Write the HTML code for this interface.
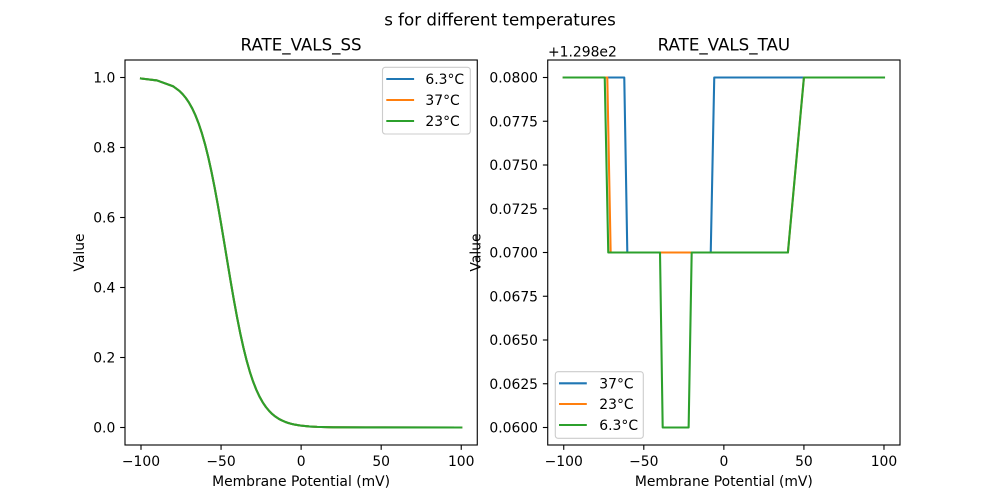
<!DOCTYPE html>
<html>
<head>
<meta charset="utf-8">
<style>
html,body{margin:0;padding:0;background:#fff;}
svg{display:block;}
text{font-family:"DejaVu Sans","Liberation Sans",sans-serif;fill:#000;}
.t{font-size:13.9px;}
.ti{font-size:16.67px;}
</style>
</head>
<body>
<svg width="1000" height="500" viewBox="0 0 1000 500" xmlns="http://www.w3.org/2000/svg">
<rect width="1000" height="500" fill="#fff"/>
<text class="ti" x="500" y="25.5" text-anchor="middle">s for different temperatures</text>

<!-- LEFT AXES -->
<text class="ti" x="301.1" y="50.3" text-anchor="middle">RATE_VALS_SS</text>
<g fill="none" stroke-width="2.08" stroke-linejoin="round" stroke-linecap="square">
<polyline stroke="#1f77b4" points="141.0,78.47 157.01,80.42 173.02,86.22 179.43,90.93 182.63,94.10 185.83,97.99 189.04,102.72 192.24,108.44 195.44,115.31 198.64,123.47 201.84,133.11 205.05,144.31 208.25,157.14 211.45,171.63 214.65,187.68 217.86,205.11 221.06,223.60 224.26,242.79 227.46,262.21 230.67,281.40 233.87,299.90 237.07,317.33 240.27,333.37 243.48,347.86 246.68,360.70 249.88,371.90 253.08,381.52 256.29,389.69 259.49,396.56 262.69,402.28 265.89,407.01 269.10,410.90 272.30,414.08 275.50,416.67 278.70,418.78 281.91,420.48 285.11,421.85 288.31,422.96 291.51,423.86 294.72,424.58 297.92,425.16 301.12,425.62 309.13,426.42 317.13,426.88 333.14,427.30 365.17,427.47 461.24,427.5"/>
<polyline stroke="#ff7f0e" points="141.0,78.47 157.01,80.42 173.02,86.22 179.43,90.93 182.63,94.10 185.83,97.99 189.04,102.72 192.24,108.44 195.44,115.31 198.64,123.47 201.84,133.11 205.05,144.31 208.25,157.14 211.45,171.63 214.65,187.68 217.86,205.11 221.06,223.60 224.26,242.79 227.46,262.21 230.67,281.40 233.87,299.90 237.07,317.33 240.27,333.37 243.48,347.86 246.68,360.70 249.88,371.90 253.08,381.52 256.29,389.69 259.49,396.56 262.69,402.28 265.89,407.01 269.10,410.90 272.30,414.08 275.50,416.67 278.70,418.78 281.91,420.48 285.11,421.85 288.31,422.96 291.51,423.86 294.72,424.58 297.92,425.16 301.12,425.62 309.13,426.42 317.13,426.88 333.14,427.30 365.17,427.47 461.24,427.5"/>
<polyline stroke="#2ca02c" points="141.0,78.47 157.01,80.42 173.02,86.22 179.43,90.93 182.63,94.10 185.83,97.99 189.04,102.72 192.24,108.44 195.44,115.31 198.64,123.47 201.84,133.11 205.05,144.31 208.25,157.14 211.45,171.63 214.65,187.68 217.86,205.11 221.06,223.60 224.26,242.79 227.46,262.21 230.67,281.40 233.87,299.90 237.07,317.33 240.27,333.37 243.48,347.86 246.68,360.70 249.88,371.90 253.08,381.52 256.29,389.69 259.49,396.56 262.69,402.28 265.89,407.01 269.10,410.90 272.30,414.08 275.50,416.67 278.70,418.78 281.91,420.48 285.11,421.85 288.31,422.96 291.51,423.86 294.72,424.58 297.92,425.16 301.12,425.62 309.13,426.42 317.13,426.88 333.14,427.30 365.17,427.47 461.24,427.5"/>
</g>
<rect x="125" y="60" width="352.27" height="385" fill="none" stroke="#000" stroke-width="1.11"/>
<g stroke="#000" stroke-width="1.11">
<line x1="141.0" y1="445" x2="141.0" y2="449.86"/>
<line x1="221.06" y1="445" x2="221.06" y2="449.86"/>
<line x1="301.12" y1="445" x2="301.12" y2="449.86"/>
<line x1="381.18" y1="445" x2="381.18" y2="449.86"/>
<line x1="461.24" y1="445" x2="461.24" y2="449.86"/>
<line x1="125" y1="427.5" x2="120.14" y2="427.5"/>
<line x1="125" y1="357.5" x2="120.14" y2="357.5"/>
<line x1="125" y1="287.5" x2="120.14" y2="287.5"/>
<line x1="125" y1="217.5" x2="120.14" y2="217.5"/>
<line x1="125" y1="147.5" x2="120.14" y2="147.5"/>
<line x1="125" y1="77.5" x2="120.14" y2="77.5"/>
</g>
<g text-anchor="middle">
<text class="t" x="141.0" y="466">−100</text>
<text class="t" x="221.06" y="466">−50</text>
<text class="t" x="301.12" y="466">0</text>
<text class="t" x="381.18" y="466">50</text>
<text class="t" x="461.24" y="466">100</text>
</g>
<g text-anchor="end">
<text class="t" x="115.3" y="432.5">0.0</text>
<text class="t" x="115.3" y="362.5">0.2</text>
<text class="t" x="115.3" y="292.5">0.4</text>
<text class="t" x="115.3" y="222.5">0.6</text>
<text class="t" x="115.3" y="152.5">0.8</text>
<text class="t" x="115.3" y="82.5">1.0</text>
</g>
<text class="t" x="301.1" y="485.8" text-anchor="middle">Membrane Potential (mV)</text>
<text class="t" transform="translate(84,252.5) rotate(-90)" text-anchor="middle">Value</text>
<!-- left legend -->
<rect x="382.5" y="67.3" width="87.8" height="66.7" rx="2.8" fill="#fff" fill-opacity="0.8" stroke="#cccccc" stroke-width="1.11"/>
<line x1="386.3" y1="79" x2="414.1" y2="79" stroke="#1f77b4" stroke-width="2.08"/>
<line x1="386.3" y1="100" x2="414.1" y2="100" stroke="#ff7f0e" stroke-width="2.08"/>
<line x1="386.3" y1="121" x2="414.1" y2="121" stroke="#2ca02c" stroke-width="2.08"/>
<text class="t" x="425.4" y="84">6.3°C</text>
<text class="t" x="425.4" y="105">37°C</text>
<text class="t" x="425.4" y="126">23°C</text>

<!-- RIGHT AXES -->
<text class="ti" x="723.86" y="50.3" text-anchor="middle">RATE_VALS_TAU</text>
<text class="t" x="548" y="56.5">+1.298e2</text>
<g fill="none" stroke-width="2.08" stroke-linejoin="round" stroke-linecap="square">
<polyline stroke="#1f77b4" points="563.74,77.5 624.27,77.5 627.31,252.5 710.74,252.5 714.25,77.5 883.98,77.5"/>
<polyline stroke="#ff7f0e" points="563.74,77.5 607.29,77.5 610.65,252.5 787.91,252.5 803.92,77.5 883.98,77.5"/>
<polyline stroke="#2ca02c" points="563.74,77.5 604.73,77.5 608.26,252.5 660.0,252.5 662.69,427.5 688.63,427.5 691.68,252.5 787.91,252.5 803.92,77.5 883.98,77.5"/>
</g>
<rect x="547.73" y="60" width="352.27" height="385" fill="none" stroke="#000" stroke-width="1.11"/>
<g stroke="#000" stroke-width="1.11">
<line x1="563.74" y1="445" x2="563.74" y2="449.86"/>
<line x1="643.80" y1="445" x2="643.80" y2="449.86"/>
<line x1="723.86" y1="445" x2="723.86" y2="449.86"/>
<line x1="803.92" y1="445" x2="803.92" y2="449.86"/>
<line x1="883.98" y1="445" x2="883.98" y2="449.86"/>
<line x1="547.73" y1="427.5" x2="542.87" y2="427.5"/>
<line x1="547.73" y1="383.75" x2="542.87" y2="383.75"/>
<line x1="547.73" y1="340" x2="542.87" y2="340"/>
<line x1="547.73" y1="296.25" x2="542.87" y2="296.25"/>
<line x1="547.73" y1="252.5" x2="542.87" y2="252.5"/>
<line x1="547.73" y1="208.75" x2="542.87" y2="208.75"/>
<line x1="547.73" y1="165" x2="542.87" y2="165"/>
<line x1="547.73" y1="121.25" x2="542.87" y2="121.25"/>
<line x1="547.73" y1="77.5" x2="542.87" y2="77.5"/>
</g>
<g text-anchor="middle">
<text class="t" x="563.74" y="466">−100</text>
<text class="t" x="643.80" y="466">−50</text>
<text class="t" x="723.86" y="466">0</text>
<text class="t" x="803.92" y="466">50</text>
<text class="t" x="883.98" y="466">100</text>
</g>
<g text-anchor="end">
<text class="t" x="538" y="432.5">0.0600</text>
<text class="t" x="538" y="388.75">0.0625</text>
<text class="t" x="538" y="345">0.0650</text>
<text class="t" x="538" y="301.25">0.0675</text>
<text class="t" x="538" y="257.5">0.0700</text>
<text class="t" x="538" y="213.75">0.0725</text>
<text class="t" x="538" y="170">0.0750</text>
<text class="t" x="538" y="126.25">0.0775</text>
<text class="t" x="538" y="82.5">0.0800</text>
</g>
<text class="t" x="723.86" y="485.8" text-anchor="middle">Membrane Potential (mV)</text>
<text class="t" transform="translate(480.7,252.5) rotate(-90)" text-anchor="middle">Value</text>
<!-- right legend -->
<rect x="555.3" y="371.7" width="88" height="66.6" rx="2.8" fill="#fff" fill-opacity="0.8" stroke="#cccccc" stroke-width="1.11"/>
<line x1="559" y1="383.3" x2="586.8" y2="383.3" stroke="#1f77b4" stroke-width="2.08"/>
<line x1="559" y1="404" x2="586.8" y2="404" stroke="#ff7f0e" stroke-width="2.08"/>
<line x1="559" y1="425" x2="586.8" y2="425" stroke="#2ca02c" stroke-width="2.08"/>
<text class="t" x="599.3" y="388.3">37°C</text>
<text class="t" x="599.3" y="409">23°C</text>
<text class="t" x="599.3" y="430">6.3°C</text>
</svg>
</body>
</html>
